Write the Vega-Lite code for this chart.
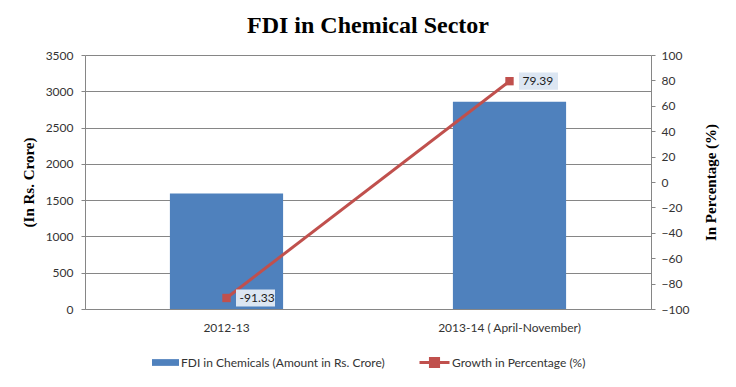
{
  "$schema": "https://vega.github.io/schema/vega-lite/v6.json",
  "width": 566,
  "height": 254,
  "autosize": "none",
  "padding": {"left": 85, "top": 55, "right": 85, "bottom": 78},
  "background": "white",
  "title": {"text": "FDI in Chemical Sector", "font": "Liberation Serif", "fontSize": 24, "fontWeight": "bold", "color": "#000000", "offset": 11, "anchor": "middle"},
  "config": {
    "view": {"stroke": null},
    "axis": {"labelFont": "Lato", "labelFontSize": 12, "labelColor": "#333333", "domainColor": "#868686", "tickColor": "#868686", "gridColor": "#868686", "titleFont": "Liberation Serif", "titleFontSize": 15, "titleFontWeight": "bold", "titleColor": "#000000"},
    "legend": {"labelFont": "Lato", "labelFontSize": 12, "labelColor": "#333333", "labelLimit": 0}
  },
  "data": {"values": [
    {"period": "2012-13", "fdi": 1590, "growth": -91.33, "label": "-91.33"},
    {"period": "2013-14 ( April-November)", "fdi": 2855, "growth": 79.39, "label": "79.39"}
  ]},
  "encoding": {
    "x": {"field": "period", "type": "nominal", "sort": null, "scale": {"paddingInner": 0.6, "paddingOuter": 0.3},
      "axis": {"title": null, "labelAngle": 0, "ticks": false, "labelPadding": 13, "domainColor": "#868686"}}
  },
  "layer": [
    {
      "mark": {"type": "bar", "color": "#4F81BD"},
      "encoding": {
        "y": {"field": "fdi", "type": "quantitative", "scale": {"domain": [0, 3500], "nice": false},
          "axis": {"title": "(In Rs. Crore)", "format": "d", "values": [0, 500, 1000, 1500, 2000, 2500, 3000, 3500], "tickSize": 4, "labelPadding": 8, "titlePadding": 9, "grid": true}},
        "color": {"datum": "FDI in Chemicals (Amount in Rs. Crore)", "scale": {"range": ["#4F81BD"]},
          "legend": {"title": null, "orient": "none", "legendX": 67, "legendY": 294, "symbolType": "M-1,-0.25H1V0.25H-1Z", "symbolSize": 729, "symbolStrokeWidth": 0, "labelOffset": 2}}
      }
    },
    {
      "encoding": {
        "y": {"field": "growth", "type": "quantitative", "scale": {"domain": [-100, 100], "nice": false},
          "axis": {"orient": "right", "title": "In Percentage (%)", "titleAngle": 270, "values": [-100, -80, -60, -40, -20, 0, 20, 40, 60, 80, 100], "tickSize": 4, "labelPadding": 6, "titlePadding": 30, "grid": false}}
      },
      "layer": [
        {
          "mark": {"type": "line", "strokeWidth": 3},
          "encoding": {
            "stroke": {"datum": "Growth in Percentage (%)", "scale": {"range": ["#C0504D"]},
              "legend": {"title": null, "orient": "none", "legendX": 333, "legendY": 291, "symbolType": "M-1,0H-0.27M0.27,0H1M-0.27,-0.27H0.27V0.27H-0.27Z", "symbolSize": 900, "symbolStrokeWidth": 3, "symbolFillColor": "#C0504D", "labelOffset": 1}}
          }
        },
        {
          "mark": {"type": "point", "shape": "square", "filled": true, "size": 70, "color": "#C0504D", "opacity": 1},
          "encoding": {}
        },
        {
          "mark": {"type": "point", "shape": "M-1,-0.44H1V0.44H-1Z", "filled": true, "size": 1521, "color": "#DCE6F2", "opacity": 1, "xOffset": 29},
          "encoding": {}
        },
        {
          "mark": {"type": "text", "align": "left", "baseline": "middle", "dx": 13, "font": "Lato", "fontSize": 12, "color": "#1a1a1a"},
          "encoding": {"text": {"field": "label"}}
        }
      ]
    }
  ],
  "resolve": {"scale": {"y": "independent"}}
}
